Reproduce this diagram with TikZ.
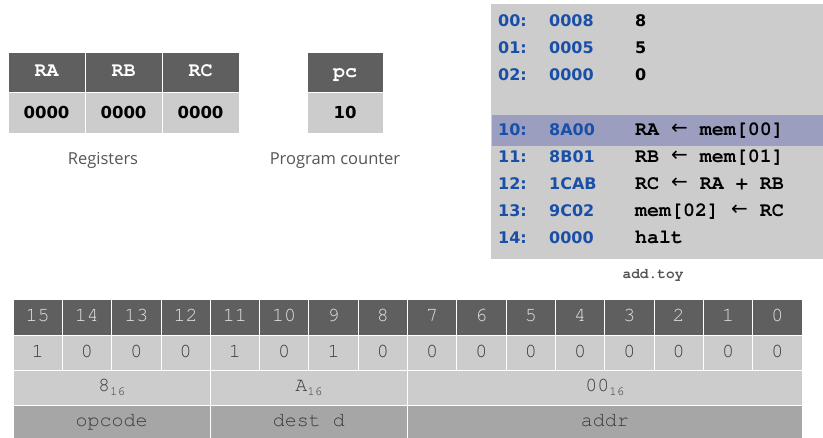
\documentclass[tikz,border=0pt]{standalone}
\usepackage{fontspec}
\setmainfont{DejaVu Sans}
\newfontfamily\cour{TeX Gyre Cursor}
\newfontfamily\vsans{DejaVu Sans}
\newfontfamily\hand{Open Sans}
\definecolor{dk}{HTML}{5F5F5F}
\definecolor{lt}{HTML}{CCCCCC}
\definecolor{md}{HTML}{A6A6A6}
\definecolor{hl}{HTML}{9C9EC0}
\definecolor{addr}{HTML}{1A4FA8}
\definecolor{labg}{HTML}{555555}
\definecolor{bitt}{HTML}{3A3A3A}
\definecolor{bith}{HTML}{E4E4E4}
\newcommand{\larr}{{\vsans\mdseries\fontsize{20}{20}\selectfont\raisebox{1pt}{←}}}
\begin{document}
\begin{tikzpicture}[x=1pt,y=-1pt,
  cell/.style={inner sep=0pt, outer sep=0pt, draw=white, line width=0.8pt, text depth=0pt},
  regh/.style={cell, fill=dk, text=white, font=\cour\bfseries\fontsize{20}{20}\selectfont,
    minimum width=77pt, minimum height=40pt, text height=10pt},
  regv/.style={cell, fill=lt, text=black, font=\vsans\bfseries\fontsize{16.5}{16.5}\selectfont,
    minimum width=77pt, minimum height=41pt, text height=13pt},
  lab/.style={inner sep=0pt, text=labg, font=\hand\fontsize{16.5}{16.5}\selectfont, anchor=base},
  memaddr/.style={inner sep=0pt, anchor=base west, text=addr, font=\vsans\bfseries\fontsize{16}{16}\selectfont},
  memval/.style={inner sep=0pt, anchor=base west, text=black, font=\vsans\bfseries\fontsize{16}{16}\selectfont},
  meminstr/.style={inner sep=0pt, anchor=base west, text=black, font=\cour\bfseries\fontsize{20}{20}\selectfont},
  bith/.style={cell, fill=dk, text=bith, font=\cour\fontsize{20}{20}\selectfont,
    minimum width=49.3125pt, minimum height=36pt, text height=10pt},
  bitv/.style={cell, fill=lt, text=bitt, font=\cour\fontsize{20}{20}\selectfont,
    minimum width=49.3125pt, minimum height=35pt, text height=11pt},
  hexv/.style={cell, fill=lt, text=bitt, font=\cour\fontsize{20}{20}\selectfont,
    minimum height=35pt, text height=9pt},
  fld/.style={cell, fill=md, text=bitt, font=\cour\fontsize{20}{20}\selectfont,
    minimum height=33pt, text height=11pt}
]
\useasboundingbox (0,0) rectangle (823,438);
\newcommand{\sixteen}{\raisebox{-4pt}{\fontsize{12.5}{12.5}\selectfont 16}}

% registers
\node[regh] (rah) at (46.5,72) {RA};
\node[regh] (rbh) at (123.5,72) {RB};
\node[regh] (rch) at (200.5,72) {RC};
\node[regv] (rav) at (46.5,112.5) {0000};
\node[regv] (rbv) at (123.5,112.5) {0000};
\node[regv] (rcv) at (200.5,112.5) {0000};
\node[regh, minimum width=76pt, text height=12pt] (pch) at (345,72) {pc};
\node[regv, minimum width=76pt] (pcv) at (345,112.5) {10};
\node[lab] (reglab) at (103,165) {Registers};
\node[lab] (pclab) at (335,165) {Program counter};

% memory
\node[inner sep=0pt, outer sep=0pt, fill=lt, anchor=north west, minimum width=332pt, minimum height=255pt] (mem) at (491,4) {};
\node[inner sep=0pt, outer sep=0pt, fill=hl, anchor=north west, minimum width=331pt, minimum height=31pt] (hil) at (492,115) {};
\node[memaddr] (a00) at (498,27) {00:};  \node[memaddr] (w00) at (549,27) {0008}; \node[memval] (c00) at (635,27) {8};
\node[memaddr] (a01) at (498,54) {01:};  \node[memaddr] (w01) at (549,54) {0005}; \node[memval] (c01) at (635,54) {5};
\node[memaddr] (a02) at (498,81) {02:};  \node[memaddr] (w02) at (549,81) {0000}; \node[memval] (c02) at (635,81) {0};
\node[memaddr] (a10) at (498,136) {10:}; \node[memaddr] (w10) at (549,136) {8A00}; \node[meminstr] (c10) at (635,136) {RA \larr{} mem[00]};
\node[memaddr] (a11) at (498,163) {11:}; \node[memaddr] (w11) at (549,163) {8B01}; \node[meminstr] (c11) at (635,163) {RB \larr{} mem[01]};
\node[memaddr] (a12) at (498,190) {12:}; \node[memaddr] (w12) at (549,190) {1CAB}; \node[meminstr] (c12) at (635,190) {RC \larr{} RA + RB};
\node[memaddr] (a13) at (498,217) {13:}; \node[memaddr] (w13) at (549,217) {9C02}; \node[meminstr] (c13) at (635,217) {mem[02] \larr{} RC};
\node[memaddr] (a14) at (498,244) {14:}; \node[memaddr] (w14) at (549,244) {0000}; \node[meminstr] (c14) at (635,244) {halt};
\node[inner sep=0pt, anchor=base, text=labg, font=\cour\bfseries\fontsize{14.5}{14.5}\selectfont] (toy) at (653,279) {add.toy};

% instruction bits
\foreach \b [count=\i from 0] in {1,0,0,0,1,0,1,0,0,0,0,0,0,0,0,0} {
  \pgfmathsetmacro\cx{13+(\i+0.5)*49.3125}
  \pgfmathtruncatemacro\n{15-\i}
  \node[bith] (h\i) at (\cx,317) {\n};
  \node[bitv] (v\i) at (\cx,352.5) {\b};
}
\node[hexv, minimum width=197.25pt] (x1) at (111.625,387.5) {8\sixteen};
\node[hexv, minimum width=197.25pt] (x2) at (308.875,387.5) {A\sixteen};
\node[hexv, minimum width=394.5pt] (x3) at (604.75,387.5) {00\sixteen};
\node[fld, minimum width=197.25pt] (f1) at (111.625,421.5) {opcode};
\node[fld, minimum width=197.25pt] (f2) at (308.875,421.5) {dest d};
\node[fld, minimum width=394.5pt] (f3) at (604.75,421.5) {addr};
\end{tikzpicture}
\end{document}
